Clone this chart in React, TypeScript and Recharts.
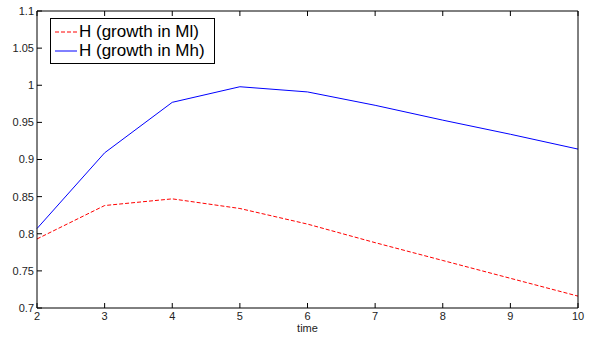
import React from 'react'
import { LineChart, Line, XAxis, YAxis, Legend } from 'recharts'

const time = [2, 3, 4, 5, 6, 7, 8, 9, 10]
const growthMl = [0.793, 0.838, 0.847, 0.834, 0.813, 0.788, 0.764, 0.74, 0.716]
const growthMh = [0.807, 0.909, 0.977, 0.998, 0.991, 0.973, 0.953, 0.934, 0.914]
const xTicks = [2, 3, 4, 5, 6, 7, 8, 9, 10]
const yTicks = [0.7, 0.75, 0.8, 0.85, 0.9, 0.95, 1, 1.05, 1.1]

const seriesNames = ['H (growth in Ml)', 'H (growth in Mh)']

const data = time.map((t, i) => ({ time: t, ml: growthMl[i], mh: growthMh[i] }))

const font = '"Liberation Sans", Arial, Helvetica, sans-serif'
const tickStyle = { fontSize: 11, fill: '#222', fontFamily: font }
const blank = () => ''

function LegendBox() {
  const rows = [
    { name: seriesNames[0], color: '#ff0000', dash: '4 2' },
    { name: seriesNames[1], color: '#0000ff', dash: undefined },
  ]
  return (
    <div
      style={{
        border: '1px solid #000',
        background: '#fff',
        width: 159,
        padding: '3px 0 3px 4px',
        fontFamily: font,
      }}
    >
      {rows.map((r) => (
        <div key={r.name} style={{ display: 'flex', alignItems: 'center', height: 19 }}>
          <svg width={22} height={19} style={{ display: 'block', flexShrink: 0 }}>
            <line x1={0} x2={22} y1={10} y2={10} stroke={r.color} strokeWidth={1} strokeDasharray={r.dash} />
          </svg>
          <span style={{ fontSize: 17, lineHeight: '19px', color: '#000', marginLeft: 2, whiteSpace: 'nowrap' }}>
            {r.name}
          </span>
        </div>
      ))}
    </div>
  )
}

export default function App() {
  return (
    <div style={{ position: 'absolute', left: 0, top: 0, background: '#fff' }}>
      <LineChart width={595} height={339} data={data} margin={{ top: 10, right: 16, bottom: 0, left: 0 }}>
        <XAxis
          xAxisId="bottom"
          dataKey="time"
          type="number"
          domain={[2, 10]}
          ticks={xTicks}
          height={31}
          tickSize={-5}
          tickMargin={9}
          tick={tickStyle}
          stroke="#000"
          axisLine={{ stroke: '#000' }}
          tickLine={{ stroke: '#000' }}
          label={{ value: 'time', position: 'insideTop', offset: 16, style: { fontSize: 11, fill: '#222', fontFamily: font } }}
        />
        <XAxis
          xAxisId="top"
          orientation="top"
          dataKey="time"
          type="number"
          domain={[2, 10]}
          ticks={xTicks}
          height={1}
          tickSize={-5}
          tickFormatter={blank}
          axisLine={{ stroke: '#000' }}
          tickLine={{ stroke: '#000' }}
        />
        <YAxis
          yAxisId="left"
          type="number"
          domain={[0.7, 1.1]}
          ticks={yTicks}
          width={37}
          tickSize={-5}
          tickMargin={8}
          tick={tickStyle}
          tickFormatter={(v: number) => String(+v.toFixed(2))}
          axisLine={{ stroke: '#000' }}
          tickLine={{ stroke: '#000' }}
        />
        <YAxis
          yAxisId="right"
          orientation="right"
          type="number"
          domain={[0.7, 1.1]}
          ticks={yTicks}
          width={1}
          tickSize={-5}
          tickFormatter={blank}
          axisLine={{ stroke: '#000' }}
          tickLine={{ stroke: '#000' }}
        />
        <Line
          xAxisId="bottom"
          yAxisId="left"
          type="linear"
          dataKey="ml"
          name={seriesNames[0]}
          stroke="#ff0000"
          strokeWidth={1}
          strokeDasharray="4 2"
          dot={false}
          isAnimationActive={false}
        />
        <Line
          xAxisId="bottom"
          yAxisId="left"
          type="linear"
          dataKey="mh"
          name={seriesNames[1]}
          stroke="#0000ff"
          strokeWidth={1}
          dot={false}
          isAnimationActive={false}
        />
        <Legend
          layout="horizontal"
          verticalAlign="middle"
          align="center"
          content={<LegendBox />}
          wrapperStyle={{ position: 'absolute', left: 50, top: 18, width: 'auto' }}
        />
      </LineChart>
    </div>
  )
}
